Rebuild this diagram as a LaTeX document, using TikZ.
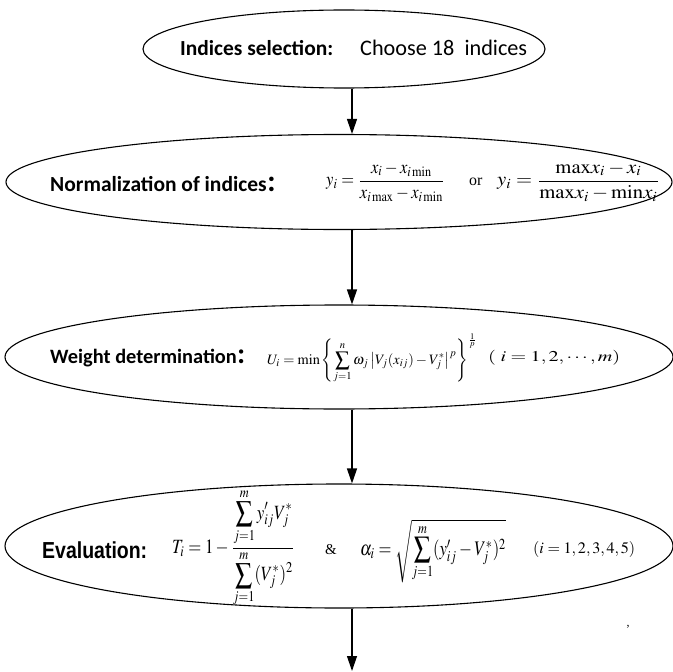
\documentclass[tikz,border=0pt]{standalone}
\usepackage{mathptmx}
\usepackage[no-math]{fontspec}
\setmainfont{Liberation Serif}
\newfontfamily\lblfont{Carlito}
\newfontfamily\arialfont{Liberation Sans}
\newfontfamily\cjkfont{Noto Sans CJK SC}
\usepackage{graphicx}
\usetikzlibrary{shapes.geometric,arrows.meta}
\begin{document}
\begin{tikzpicture}[x=1bp,y=-1bp,
  ell/.style={draw, ellipse, line width=1.1bp, inner sep=0},
  arr/.style={line width=1.2bp, -{Triangle[length=15bp,width=10bp]}},
  txt/.style={anchor=west, inner sep=0}]
\useasboundingbox (0,0) rectangle (673,672);
\coordinate (ax) at (352,0);
% ellipses
\node[ell, minimum width=402bp, minimum height=78bp] (e1) at (344,49) {};
\node[ell, minimum width=666bp, minimum height=95bp] (e2) at (339,182) {};
\node[ell, minimum width=668bp, minimum height=104bp] (e3) at (339,357) {};
\node[ell, minimum width=668bp, minimum height=124bp] (e4) at (339,546) {};
\coordinate (end) at (352,671);
% arrows
\draw[arr] (e1.south -| ax) -- (e2.north -| ax);
\draw[arr] (e2.south -| ax) -- (e3.north -| ax);
\draw[arr] (e3.south -| ax) -- (e4.north -| ax);
\draw[arr] (e4.south -| ax) -- (end);
% ellipse 1
\node[txt] (l1) at (180,48) {\resizebox{153bp}{!}{\lblfont\bfseries Indices selection:}};
\node[txt] (c1) at (360,48) {\resizebox{167bp}{!}{\lblfont Choose 18\ \ indices}};
% ellipse 2
\node[txt] (l2) at (50,184) {\resizebox{238bp}{!}{{\lblfont\bfseries Normalization of indices}{\cjkfont\bfseries ：}}};
\node[txt] (f2a) at (326,182) {\resizebox*{119bp}{40bp}{$\displaystyle y_i=\frac{x_i-x_{i\,\mathrm{min}}}{x_{i\,\mathrm{max}}-x_{i\,\mathrm{min}}}$}};
\node[txt] (or) at (469,182) {\fontsize{16}{16}\selectfont or};
\node[txt] (f2b) at (497,182) {\resizebox*{163bp}{40bp}{$\displaystyle y_i=\frac{\mathrm{max}x_i-x_i}{\mathrm{max}x_i-\mathrm{min}x_i}$}};
% ellipse 3
\node[txt] (l3) at (50,358) {\resizebox{207bp}{!}{{\lblfont\bfseries Weight determination}{\cjkfont\bfseries ：}}};
\node[txt] (f3) at (267,358) {\resizebox{210bp}{!}{$\displaystyle U_i=\min\left\{\sum_{j=1}^{n}\omega_j\left|V_j(x_{ij})-V_j^{*}\right|^{p}\right\}^{\frac{1}{p}}$}};
\node[txt] (r3) at (488,358) {\resizebox*{132bp}{15bp}{$(\;i=1,2,\cdots,m)$}};
% ellipse 4
\node[txt] (l4) at (42,550) {\resizebox*{105bp}{17bp}{\arialfont\bfseries Evaluation:}};
\node[txt] (f4a) at (172,548) {\resizebox*{123bp}{118bp}{$\displaystyle T_i=1-\frac{\displaystyle\sum_{j=1}^{m}y'_{ij}V_j^{*}}{\displaystyle\sum_{j=1}^{m}(V_j^{*})^{2}}$}};
\node[txt] (amp) at (325,550) {\fontsize{15}{15}\selectfont\&};
\node[txt] (f4b) at (360,551) {\resizebox*{146bp}{63bp}{$\displaystyle \alpha_i=\sqrt{\sum_{j=1}^{m}(y'_{ij}-V_j^{*})^{2}}$}};
\node[txt] (r4) at (533,549) {\resizebox*{102bp}{16bp}{$(i=1,2,3,4,5)$}};
\node[inner sep=0] (comma) at (628,627) {\fontsize{12}{12}\selectfont ,};
\end{tikzpicture}
\end{document}
